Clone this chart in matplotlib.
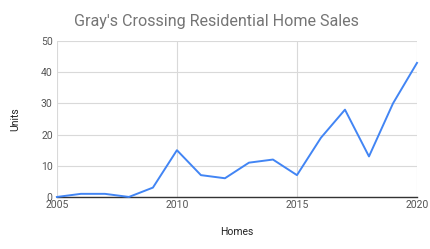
import matplotlib
matplotlib.use("Agg")
import matplotlib.pyplot as plt

# Ventas por año
years = [2005, 2006, 2007, 2008, 2009, 2010, 2011, 2012, 2013, 2014,
         2015, 2016, 2017, 2018, 2019, 2020]
units = [0, 1, 1, 0, 3, 15, 7, 6, 11, 12, 7, 19, 28, 13, 30, 43]
x_ticks = [2005, 2010, 2015, 2020]
y_ticks = [0, 10, 20, 30, 40, 50]

plt.rcParams["font.family"] = ["Roboto", "DejaVu Sans"]

fig = plt.figure(figsize=(4.31, 2.49), dpi=100)
ax = fig.add_axes([0.132, 0.209, 0.8355, 0.626])

ax.plot(years, units, color="#4285F4", linewidth=1.4, clip_on=False, zorder=3)

ax.set_xlim(2005, 2020)
ax.set_ylim(0, 50)
ax.set_xticks(x_ticks)
ax.set_yticks(y_ticks)
ax.grid(True, color="#d9d9d9", linewidth=0.8)
ax.set_axisbelow(True)

for s in ["left", "right", "top"]:
    ax.spines[s].set_visible(False)
ax.spines["bottom"].set_color("#333333")
ax.spines["bottom"].set_linewidth(1.0)
ax.tick_params(length=0, labelsize=7.5, colors="#555555", pad=3)
ax.tick_params(axis="x", pad=2.5)

ax.set_xlabel("Homes", fontsize=7.5, color="#222222", labelpad=12)
ax.set_ylabel("Units", fontsize=7.5, color="#222222", labelpad=15)

fig.text(0.172, 0.915, "Gray's Crossing Residential Home Sales", fontsize=11.6,
         color="#757575", ha="left", va="center")

fig.savefig("out.png", dpi=100)
